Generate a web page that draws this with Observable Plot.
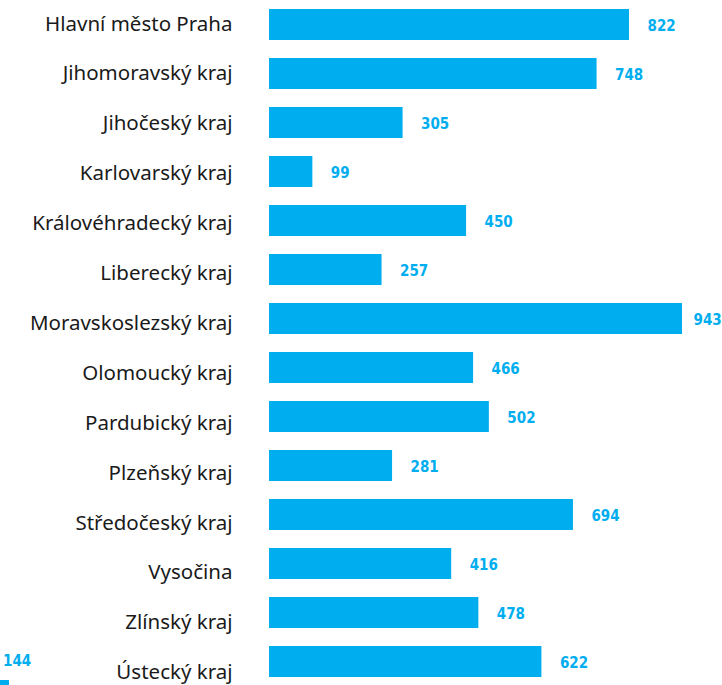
<!DOCTYPE html>
<html>
<head>
<meta charset="utf-8">
<script src="https://cdn.jsdelivr.net/npm/d3@7"></script>
<script src="https://cdn.jsdelivr.net/npm/@observablehq/plot@0.6"></script>
<style>
  html, body { margin: 0; padding: 0; background: #fff; }
  #wrap { position: relative; width: 722px; height: 685px; overflow: hidden; }
  #stray { position: absolute; left: 3px; top: 652px; font: bold 15px "DejaVu Sans Condensed", "DejaVu Sans", sans-serif; color: #00AEEF; }
  #straybar { position: absolute; left: 0; top: 680px; width: 9px; height: 6px; background: #00AEEF; }
</style>
</head>
<body>
<div id="wrap"></div>
<script>
const regions = [
  "Hlavní město Praha", "Jihomoravský kraj", "Jihočeský kraj", "Karlovarský kraj",
  "Královéhradecký kraj", "Liberecký kraj", "Moravskoslezský kraj", "Olomoucký kraj",
  "Pardubický kraj", "Plzeňský kraj", "Středočeský kraj", "Vysočina",
  "Zlínský kraj", "Ústecký kraj"
];
const counts = [822, 748, 305, 99, 450, 257, 943, 466, 502, 281, 694, 416, 478, 622];
const strayLabel = "144";

const data = regions.map((r, i) => ({region: r, value: counts[i]}));
const blue = "#00AEEF";
const maxVal = d3.max(counts);
const valueFont = "DejaVu Sans Condensed, DejaVu Sans, sans-serif";

// category labels drift slightly downward relative to the bars in the original
const labelMarks = data.map((d, i) => Plot.text([d], {
  x: 0, y: "region", text: "region", dx: -37, dy: -1 + 0.9 * i, textAnchor: "end",
  fontSize: 20.5, fill: "#1a1a1a", fontFamily: "Noto Sans, sans-serif"
}));

const chart = Plot.plot({
  width: 722,
  height: 686,
  marginLeft: 269,
  marginRight: 0,
  marginTop: 0,
  marginBottom: 0,
  x: {domain: [0, 1000], range: [269, 269 + 1000 * 360 / 822], axis: null},
  y: {domain: regions, paddingInner: 0.367, paddingOuter: 0.1835, round: false, axis: null},
  style: {fontFamily: "Noto Sans, sans-serif", background: "#fff"},
  marks: [
    Plot.barX(data, {x: "value", y: "region", fill: blue}),
    ...labelMarks,
    Plot.text(data, {
      filter: d => d.value < maxVal,
      x: "value", y: "region", text: d => String(d.value), dx: 18, dy: 1, textAnchor: "start",
      fontSize: 15, fontWeight: "bold", fill: blue, fontFamily: valueFont
    }),
    Plot.text(data, {
      filter: d => d.value === maxVal,
      x: "value", y: "region", text: d => String(d.value), dx: 11, dy: 1, textAnchor: "start",
      fontSize: 15, fontWeight: "bold", fill: blue, fontFamily: valueFont
    })
  ]
});
const wrap = document.getElementById("wrap");
wrap.appendChild(chart);
const s = document.createElement("div");
s.id = "stray"; s.textContent = strayLabel;
wrap.appendChild(s);
const sb = document.createElement("div");
sb.id = "straybar";
wrap.appendChild(sb);
</script>
</body>
</html>
